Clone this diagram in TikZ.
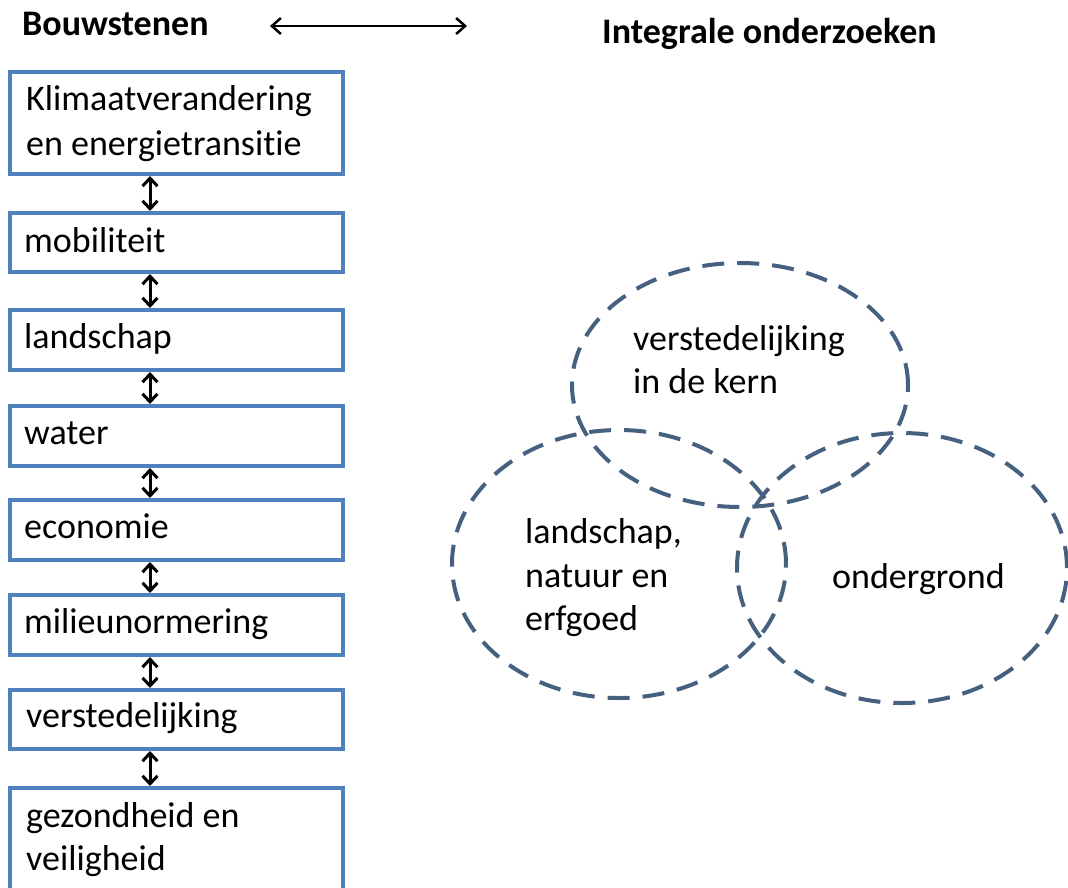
\documentclass[tikz,border=0pt]{standalone}
\usepackage{fontspec}
\setmainfont{Carlito}[Ligatures=NoCommon]
\usetikzlibrary{arrows.meta,shapes.geometric}
\definecolor{boxblue}{RGB}{79,129,189}
\definecolor{dashblue}{RGB}{70,97,128}
\begin{document}
\begin{tikzpicture}[x=1pt,y=1pt,
  bx/.style={draw=boxblue,line width=4pt,minimum width=333pt,inner sep=0pt},
  lbl/.style={anchor=base west,inner sep=0pt,font=\fontsize{36}{45}\selectfont},
  hd/.style={anchor=base west,inner sep=0pt,font=\fontsize{36}{44}\selectfont\bfseries},
  link/.style={{Straight Barb[length=8pt,width=15pt]}-{Straight Barb[length=8pt,width=15pt]},line width=3pt,black},
  toparrow/.style={{Straight Barb[length=9pt,width=16pt]}-{Straight Barb[length=9pt,width=16pt]},line width=2.5pt,black},
  ring/.style={ellipse,draw=dashblue,line width=4pt,dash pattern=on 22pt off 13pt,inner sep=0pt}
]
\useasboundingbox (0,0) rectangle (1068,-887);
\clip (0,0) rectangle (1068,-887);
\fill[white] (0,0) rectangle (1068,-887);

% headings
\node[hd] (hb) at (22,-35) {Bouwstenen};
\node[hd] (hi) at (602,-43) {Integrale onderzoeken};
\coordinate (al) at (270,-26);
\coordinate (ar) at (467,-26);
\draw[toparrow] (al) -- (ar);

% boxes
\node[bx,minimum height=102pt] (b1) at (176.5,-123) {};
\node[bx,minimum height=59pt] (b2) at (176.5,-242.5) {};
\node[bx,minimum height=60pt] (b3) at (176.5,-340) {};
\node[bx,minimum height=60pt] (b4) at (176.5,-436) {};
\node[bx,minimum height=60pt] (b5) at (176.5,-530) {};
\node[bx,minimum height=60pt] (b6) at (176.5,-625) {};
\node[bx,minimum height=59pt] (b7) at (176.5,-719.5) {};
\node[bx,minimum height=112pt] (b8) at (176.5,-844) {};

\node[lbl] (t1a) at (26,-110) {Klimaatverandering};
\node[lbl] (t1b) at (26,-155) {en energietransitie};
\node[lbl] (t2) at (24,-252) {mobiliteit};
\node[lbl] (t3) at (24,-348) {landschap};
\node[lbl] (t4) at (24,-444) {water};
\node[lbl] (t5) at (24,-538) {economie};
\node[lbl] (t6) at (24,-633) {milieunormering};
\node[lbl] (t7) at (26,-727) {verstedelijking};
\node[lbl] (t8a) at (26,-827) {gezondheid en};
\node[lbl] (t8b) at (26,-870) {veiligheid};

% links between boxes
\coordinate (ax) at (150,0);
\foreach \a/\b in {b1/b2,b2/b3,b3/b4,b4/b5,b5/b6,b6/b7,b7/b8}{
  \draw[link] (\a.south -| ax) -- (\b.north -| ax);
}

% ellipses
\node[ring,minimum width=336pt,minimum height=244pt] (ek) at (740,-385) {};
\node[ring,minimum width=334pt,minimum height=268pt] (el) at (619,-564) {};
\node[ring,minimum width=330pt,minimum height=270pt] (eo) at (902,-568) {};

\node[lbl] (tk1) at (633,-350) {verstedelijking};
\node[lbl] (tk2) at (633,-393) {in de kern};
\node[lbl] (tl1) at (525,-543) {landschap,};
\node[lbl] (tl2) at (525,-587) {natuur en};
\node[lbl] (tl3) at (525,-630) {erfgoed};
\node[lbl] (to) at (832,-588) {ondergrond};
\end{tikzpicture}
\end{document}
